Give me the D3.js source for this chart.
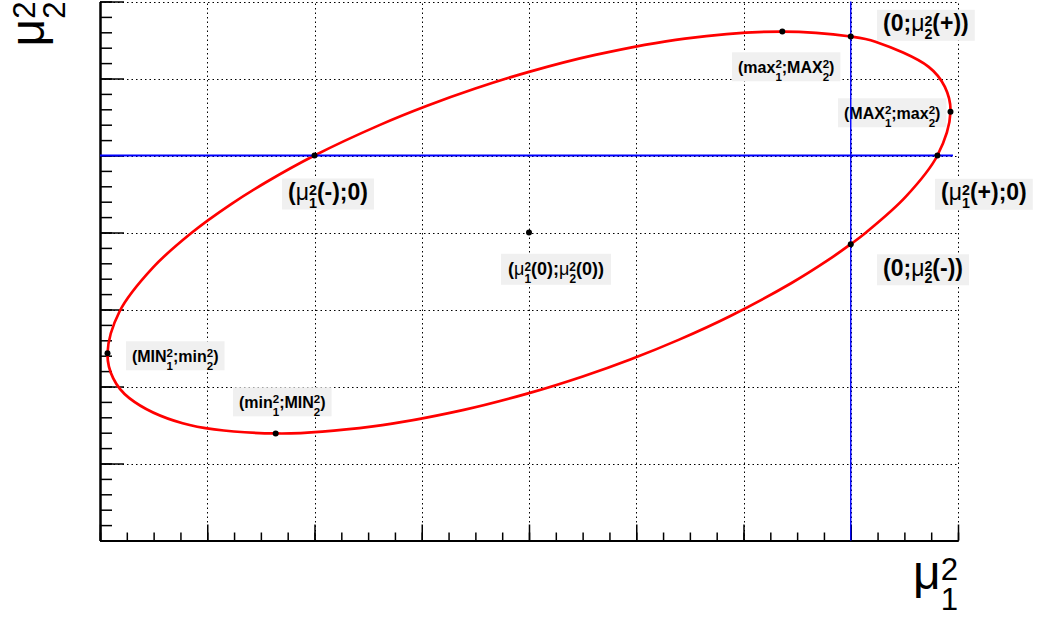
<!DOCTYPE html>
<html lang="en">
<head>
<meta charset="UTF-8">
<title>mu1^2 - mu2^2 ellipse</title>
<script src="https://d3js.org/d3.v7.min.js"></script>
<style>
  body { margin: 0; background: #fff; }
  text { font-family: "Liberation Sans", Arial, Helvetica, sans-serif; }
</style>
</head>
<body>
<div id="chart"></div>
<script>
// ellipse outline, points (mu1^2, mu2^2)
const curveX = [0, 0.1426, 0.5112, 0.808, 0.93, 0.8776, 0.7265, 0.2296, 0, -0.638, -1.546, -2.382, -3, -3.501, -3.95,
                -4.3945, -5, -5.448, -5.7802, -6.1426, -6.5112, -6.8166, -6.93, -6.8776, -6.7265, -6.2296, -5.362, -4.4541,
                -3.6182, -3, -2.499, -2.0499, -1.6055, -1.1223, -0.552, -0.2198];
const curveY = [-1.152, -1, -0.5377, 0, 0.568, 0.8913, 1.1515, 1.4782, 1.545, 1.61, 1.519, 1.307, 1.0865, 0.8697, 0.6456,
                0.3945, 0, -0.3441, -0.634, -1, -1.4623, -2.0226, -2.568, -2.8913, -3.1515, -3.4782, -3.61, -3.5187,
                -3.3072, -3.0865, -2.8697, -2.6456, -2.3945, -2.0841, -1.6559, -1.366];

// marked points: centre, axis crossings, extremes
const pointX = [-3, -5, 0.808, 0, 0, -0.638, 0.93, -6.93, -5.362];
const pointY = [-1, 0, 0, 1.545, -1.152, 1.61, 0.568, -2.568, -3.61];

// labels (left edge / vertical centre of their box, data units)
const labelText = ["(0;#mu_2^2(+))", "(max_1^2;MAX_2^2)", "(MAX_1^2;max_2^2)", "(#mu_1^2(+);0)", "(0;#mu_2^2(-))",
                   "(#mu_1^2(-);0)", "(#mu_1^2(0);#mu_2^2(0))", "(MIN_1^2;min_2^2)", "(min_1^2;MIN_2^2)"];
const labelX = [0.245, -1.107, -0.119, 0.786, 0.245, -5.303, -3.261, -6.758, -5.76];
const labelY = [1.691, 1.152, 0.555, -0.504, -1.484, -0.5, -1.478, -2.601, -3.199];
const labelKind = ["big", "small", "small", "big", "big", "big", "mid", "small", "small"];

// the two zero lines
const hLineX = [-7, 0.953];
const vLineY = [-5, 2];

const xDomain = [-7, 1];
const yDomain = [-5, 2];

const W = 1045, H = 619;
const padL = 100, padR = 958, padT = 1.5, padB = 540.5;

const kinds = {
  big:   { s: 23, h: 31, ratio: 0.62, sup: 5,   sub: 7.5, pad: 6 },
  mid:   { s: 18, h: 31, ratio: 0.66, sup: 4.5, sub: 7.5, pad: 7 },
  small: { s: 16, h: 29, ratio: 0.72, sup: 4.5, sub: 8,   pad: 6 }
};

const svg = d3.select("#chart").append("svg")
    .attr("width", W).attr("height", H);

const x = d3.scaleLinear().domain(xDomain).range([padL, padR]);
const y = d3.scaleLinear().domain(yDomain).range([padB, padT]);
const crisp = v => Math.round(v) + 0.5;

const xMajor = d3.range(-7, 1.001, 1);
const xMinor = d3.range(-7, 1.001, 0.25);
const yMajor = d3.range(-5, 2.001, 1);
const yMinor = d3.range(-5, 2.001, 0.2);

// grid
const grid = svg.append("g").attr("stroke", "#000").attr("stroke-width", 1).attr("stroke-dasharray", "1.5,3");
grid.selectAll("line.gx").data(xMajor.slice(1)).join("line")
    .attr("x1", d => crisp(x(d))).attr("x2", d => crisp(x(d))).attr("y1", padB).attr("y2", padT);
grid.selectAll("line.gy").data(yMajor.slice(1)).join("line")
    .attr("y1", d => crisp(y(d))).attr("y2", d => crisp(y(d))).attr("x1", padL).attr("x2", padR);

// axes, ticks only
function noLab(ax) { return ax.tickFormat(""); }
svg.append("g").attr("transform", `translate(0,${padB})`)
    .call(noLab(d3.axisBottom(x).tickValues(xMinor).tickSize(-8)).tickSizeOuter(0));
svg.append("g").attr("transform", `translate(0,${padB})`)
    .call(noLab(d3.axisBottom(x).tickValues(xMajor).tickSize(-16)).tickSizeOuter(0));
svg.append("g").attr("transform", `translate(${padL},0)`)
    .call(noLab(d3.axisLeft(y).tickValues(yMinor).tickSize(-12)).tickSizeOuter(0));
svg.append("g").attr("transform", `translate(${padL},0)`)
    .call(noLab(d3.axisLeft(y).tickValues(yMajor).tickSize(-24)).tickSizeOuter(0));
svg.selectAll(".tick line").attr("stroke", "#000").attr("stroke-width", 1.5);
svg.selectAll(".domain").attr("stroke", "#000").attr("stroke-width", 2);

// ellipse
const pts = curveX.map((d, i) => [d, curveY[i]]);
svg.append("path")
    .attr("d", d3.line().x(d => x(d[0])).y(d => y(d[1])).curve(d3.curveCatmullRomClosed.alpha(0.5))(pts))
    .attr("fill", "none").attr("stroke", "#ff0000").attr("stroke-width", 2.7);

// latex-ish text: #mu, stacked _a^b scripts
function drawLatex(g, str, px, py, s, o) {
  const t = g.append("text").attr("x", px).attr("y", py).attr("font-size", s);
  const re = /#mu|_(\w)\^(\w)|[^#_]+/g;
  const rs = s * o.ratio;
  let m, cur = 0;
  while ((m = re.exec(str)) !== null) {
    if (m[0] === "#mu") {
      t.append("tspan").attr("dy", -cur).attr("font-weight", "normal").text("\u03bc");
      cur = 0;
    } else if (m[1]) {
      const up = -o.sup, dn = o.sub;
      t.append("tspan").attr("dy", up - cur).attr("font-size", rs).text(m[2]);
      t.append("tspan").attr("dx", -0.556 * rs).attr("dy", dn - up).attr("font-size", rs).text(m[1]);
      cur = dn;
    } else {
      t.append("tspan").attr("dy", -cur).text(m[0]);
      cur = 0;
    }
  }
  return t;
}

// labels with grey boxes
const lab = svg.append("g");
labelText.forEach((str, i) => {
  const k = kinds[labelKind[i]];
  const bx = x(labelX[i]), cy = y(labelY[i]);
  const g = lab.append("g");
  const rect = g.append("rect").attr("fill", "#f0f0f0");
  const t = drawLatex(g, str, bx + k.pad, cy + 6, k.s, k)
      .attr("font-weight", "bold").attr("fill", "#000");
  const bb = t.node().getBBox();
  rect.attr("x", bx).attr("y", cy - k.h / 2).attr("width", bb.width + 2 * k.pad).attr("height", k.h);
});

// zero lines
svg.append("line")
    .attr("x1", x(hLineX[0])).attr("x2", x(hLineX[1])).attr("y1", y(0)).attr("y2", y(0))
    .attr("stroke", "#0000ff").attr("stroke-width", 2.2);
svg.append("line")
    .attr("x1", x(0)).attr("x2", x(0)).attr("y1", y(vLineY[0])).attr("y2", y(vLineY[1]))
    .attr("stroke", "#0000ff").attr("stroke-width", 1.4);

// markers
svg.append("g").selectAll("circle").data(pointX).join("circle")
    .attr("cx", d => x(d)).attr("cy", (d, i) => y(pointY[i])).attr("r", 3).attr("fill", "#000");

// axis titles
const titleOpt = { ratio: 0.65, sup: 9, sub: 21 };
drawLatex(svg, "#mu_1^2", padR, 589, 48, titleOpt).attr("text-anchor", "end").attr("fill", "#000");
drawLatex(svg.append("g").attr("transform", `translate(44,${padT}) rotate(-90)`), "#mu_2^2", 0, 0, 48, titleOpt)
    .attr("text-anchor", "end").attr("fill", "#000");
</script>
</body>
</html>
